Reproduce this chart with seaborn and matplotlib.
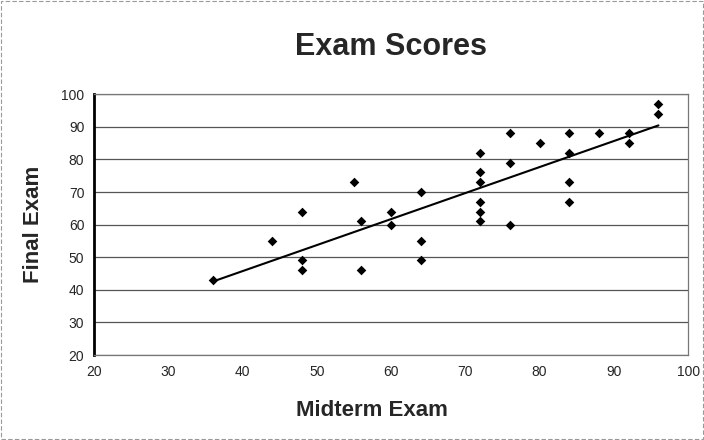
import numpy as np
import pandas as pd
import matplotlib
matplotlib.use('Agg')
import matplotlib.pyplot as plt
import seaborn as sns

# Exam scores
midterm = [36, 44, 48, 48, 48, 55, 56, 56, 60, 60, 64, 64, 64,
           72, 72, 72, 72, 72, 72, 76, 76, 76, 80, 84, 84, 84, 84,
           88, 92, 92, 96, 96]
final = [43, 55, 64, 49, 46, 73, 61, 46, 64, 60, 70, 55, 49,
         82, 76, 73, 67, 64, 61, 88, 79, 60, 85, 88, 82, 73, 67,
         88, 88, 85, 97, 94]

df = pd.DataFrame({'Midterm Exam': midterm, 'Final Exam': final})

sns.set_style('white')
plt.rcParams['font.family'] = ['Liberation Sans', 'DejaVu Sans']

fig = plt.figure(figsize=(7.04, 4.40), dpi=100)
ax = fig.add_axes([0.1335, 0.193, 0.844, 0.593])

sns.scatterplot(data=df, x='Midterm Exam', y='Final Exam', marker='D',
                color='black', s=24, edgecolor='black', linewidth=0, ax=ax, zorder=3)
sns.regplot(data=df, x='Midterm Exam', y='Final Exam', scatter=False, ci=None,
            color='black', line_kws={'linewidth': 1.5}, ax=ax)

ax.set_xlim(20, 100)
ax.set_ylim(20, 100)
ax.set_xticks(range(20, 101, 10))
ax.set_yticks(range(20, 101, 10))
ax.grid(axis='y', color='#555555', linewidth=0.9)
ax.set_axisbelow(True)
for side in ['top', 'right', 'bottom']:
    ax.spines[side].set_color('#777777')
    ax.spines[side].set_linewidth(0.9)
ax.spines['left'].set_color('black')
ax.spines['left'].set_linewidth(2)
ax.tick_params(axis='both', labelsize=10, length=2, direction='inout', color='#333333', pad=6)

ax.set_xlabel('Midterm Exam', fontsize=16, fontweight='bold')
ax.xaxis.set_label_coords(0.468, -0.174)
ax.set_ylabel('Final Exam', fontsize=16, fontweight='bold')
ax.yaxis.set_label_coords(-0.084, 0.5)
fig.text(0.556, 0.893, 'Exam Scores', ha='center', va='center',
         fontsize=22, fontweight='bold')

# Chart area border
fig.patches.append(plt.Rectangle((0.002, 0.002), 0.996, 0.996, transform=fig.transFigure,
                                 fill=False, edgecolor='#999999', linewidth=0.8,
                                 linestyle=(0, (4, 2))))

fig.savefig('out.png', dpi=100)
